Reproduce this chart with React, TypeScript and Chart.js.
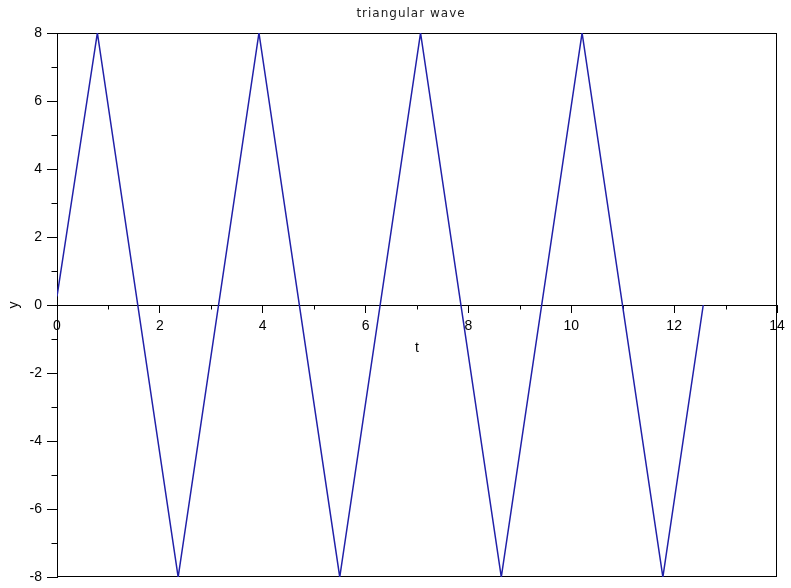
import React, { useEffect, useRef } from "react";
import { Chart, registerables } from "chart.js";

Chart.register(...registerables);

const chartTitle = "triangular wave";
const xAxisLabel = "t";
const yAxisLabel = "y";

// vertices of the triangular wave (t, y)
const tValues = [0, 0.785, 2.356, 3.927, 5.498, 7.069, 8.639, 10.21, 11.781, 12.566];
const yValues = [0.25, 8, -8, 8, -8, 8, -8, 8, -8, 0];

const xMin = 0;
const xMax = 14;
const xStep = 2;
const yMin = -8;
const yMax = 8;
const yStep = 2;
const xMinorTicks = [1, 3, 5, 7, 9, 11, 13];
const yMinorTicks = [-7, -5, -3, -1, 1, 3, 5, 7];

const LINE_COLOR = "#2020a8";
const TICK_FONT = { family: '"Liberation Sans", Arial, sans-serif', size: 14 };

export default function App() {
  const ref = useRef<HTMLCanvasElement | null>(null);

  useEffect(() => {
    if (!ref.current) return;

    const framePlugin = {
      id: "scilabFrame",
      beforeDatasetsDraw(chart: any) {
        const { ctx, chartArea: a, scales } = chart;
        const xs = scales.x;
        const ys = scales.y;
        ctx.save();
        ctx.strokeStyle = "#000";
        ctx.lineWidth = 1;
        const l = Math.round(a.left) + 0.5;
        const t = Math.round(a.top) + 0.5;
        const r = Math.round(a.right) - 0.5;
        const b = Math.round(a.bottom) - 0.5;
        ctx.strokeRect(l, t, r - l, b - t);
        const y0 = Math.round(ys.getPixelForValue(0)) + 0.5;
        ctx.beginPath();
        for (const v of xMinorTicks) {
          const px = Math.round(xs.getPixelForValue(v)) + 0.5;
          ctx.moveTo(px, y0);
          ctx.lineTo(px, y0 + 4);
        }
        for (const v of yMinorTicks) {
          const py = Math.round(ys.getPixelForValue(v)) + 0.5;
          ctx.moveTo(l - 6, py);
          ctx.lineTo(l, py);
        }
        ctx.stroke();
        ctx.restore();
      },
      afterDraw(chart: any) {
        const { ctx, chartArea: a, scales } = chart;
        const ys = scales.y;
        const cx = (a.left + a.right) / 2;
        const y0 = ys.getPixelForValue(0);
        ctx.save();
        ctx.fillStyle = "#222";
        ctx.textAlign = "center";
        ctx.textBaseline = "middle";
        ctx.font = '12px "DejaVu Sans", sans-serif';
        try {
          (ctx as any).letterSpacing = "1px";
        } catch (e) {}
        ctx.fillText(chartTitle, cx - 6, 14);
        try {
          (ctx as any).letterSpacing = "0px";
        } catch (e) {}
        ctx.fillStyle = "#000";
        ctx.font = '14px "Liberation Sans", Arial, sans-serif';
        ctx.fillText(xAxisLabel, cx, y0 + 43);
        ctx.translate(14, y0);
        ctx.rotate(-Math.PI / 2);
        ctx.fillText(yAxisLabel, 0, 0);
        ctx.restore();
      },
    };

    const chart = new Chart(ref.current, {
      type: "line",
      data: {
        datasets: [
          {
            label: chartTitle,
            data: tValues.map((t, i) => ({ x: t, y: yValues[i] })),
            borderColor: LINE_COLOR,
            borderWidth: 1.5,
            pointRadius: 0,
            fill: false,
            tension: 0,
          },
        ],
      },
      options: {
        responsive: false,
        animation: false,
        layout: { padding: { left: 0, top: 33, right: 14, bottom: 11 } },
        plugins: {
          legend: { display: false },
          title: { display: false },
          tooltip: { enabled: false },
        },
        scales: {
          x: {
            type: "linear",
            min: xMin,
            max: xMax,
            position: { y: 0 } as any,
            ticks: {
              stepSize: xStep,
              font: TICK_FONT,
              color: "#000",
              padding: 6,
              maxRotation: 0,
            },
            grid: { drawOnChartArea: false, tickLength: 7, color: "#000" },
            border: { color: "#000", width: 1 },
          },
          y: {
            type: "linear",
            min: yMin,
            max: yMax,
            position: "left",
            ticks: {
              stepSize: yStep,
              font: TICK_FONT,
              color: "#000",
              padding: 5,
            },
            grid: { drawOnChartArea: false, tickLength: 10, color: "#000" },
            border: { color: "#000", width: 1 },
            afterFit(scale: any) {
              scale.width = 57;
              scale.paddingTop = 0;
              scale.paddingBottom = 0;
            },
          },
        },
      },
      plugins: [framePlugin],
    });

    return () => chart.destroy();
  }, []);

  return (
    <div
      style={{
        position: "fixed",
        left: 0,
        top: 0,
        width: 791,
        height: 588,
        background: "#fff",
      }}
    >
      <canvas ref={ref} width={791} height={588} style={{ display: "block" }} />
    </div>
  );
}
